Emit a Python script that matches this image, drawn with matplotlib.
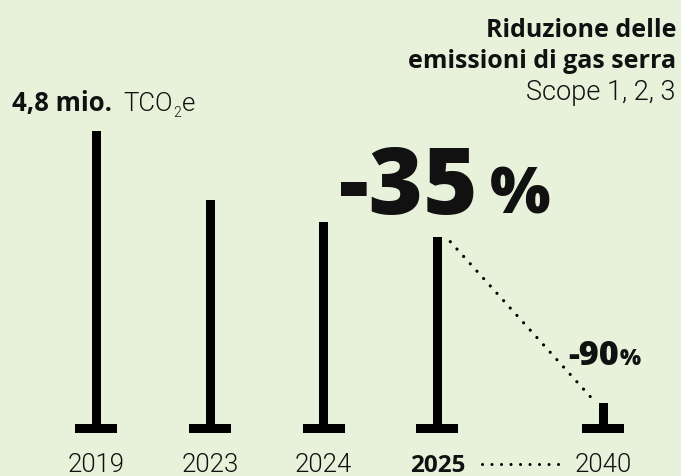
import matplotlib
matplotlib.use("Agg")
import matplotlib.pyplot as plt
from matplotlib.transforms import IdentityTransform, blended_transform_factory

# ---- data ----
years = ["2019", "2023", "2024", "2025", "2040"]
values = [4.8, 3.7, 3.35, 3.12, 0.48]      # million t CO2e
positions = [0, 1, 2, 3, 4.46]            # category slots (gap before 2040)
headline = "4,8 mio."
unit = "TCO"
reduction_2025 = "-35"
reduction_2040 = "-90"
title_lines = ["Riduzione delle", "emissioni di gas serra"]
subtitle = "Scope 1, 2, 3"

BG = "#e8f2da"
INK = "#111111"
FONT = "Open Sans"
LFONT = "Roboto"
LIGHT = 300

W, H = 681, 477
fig = plt.figure(figsize=(W / 100, H / 100), dpi=100, facecolor=BG)
ax = fig.add_axes([0, 0, 1, 1])
ax.set_facecolor(BG)
ax.axis("off")

ypx, xpx = 62.92, 113.6
ax.set_ylim(-43 / ypx, (H - 43) / ypx)
ax.set_xlim(-96.5 / xpx, (W - 96.5) / xpx)

stem_w = 9 / xpx
base_w = 42 / xpx
base_h = 9 / ypx
ax.bar(positions, values, width=stem_w, color="black", bottom=0)
ax.bar(positions, [base_h] * len(positions), width=base_w, color="black", bottom=0)

ident = IdentityTransform()

def disp(x, y):
    return ax.transData.transform((x, y))

# dotted trend 2025 -> 2040
x0, y0 = disp(positions[3], values[3])
x1, y1 = disp(positions[4], values[4])
ax.plot([x0 + 13, x1 - 10], [y0 - 5, y1 + 3], transform=ident, color="black",
        linestyle=(0, (0.01, 3.1)), linewidth=2.3, dash_capstyle="round")

# year labels
bt = blended_transform_factory(ax.transData, ident)
for p, yr in zip(positions, years):
    bold = yr == "2025"
    ax.text(p, 5, yr, transform=bt, ha="center", va="baseline",
            fontsize=17.5 if bold else 18.5, family=FONT if bold else LFONT, color=INK,
            fontweight="bold" if bold else LIGHT)

# dotted line between 2025 and 2040 labels
ax.plot([482, 558.5], [12, 12], transform=ident, color="black",
        linestyle=(0, (0.01, 3.1)), linewidth=2.2, dash_capstyle="round")

# headline value
fig.text(12, H - 111, headline, transform=ident, fontsize=18.5, family=FONT,
         fontweight="bold", color=INK, va="baseline", ha="left")
renderer = fig.canvas.get_renderer()
tu = fig.text(123, H - 111, unit, transform=ident, fontsize=18.5, family=LFONT,
              fontweight=LIGHT, color=INK, va="baseline", ha="left")
xr = tu.get_window_extent(renderer).x1
ts = fig.text(xr + 1, H - 117, "2", transform=ident, fontsize=10, family=LFONT,
              fontweight=LIGHT, color=INK, va="baseline", ha="left")
xr = ts.get_window_extent(renderer).x1
fig.text(xr + 1, H - 111, "e", transform=ident, fontsize=18.5, family=LFONT,
         fontweight=LIGHT, color=INK, va="baseline", ha="left")

# title block
fig.text(676, H - 37, title_lines[0], transform=ident, fontsize=18, family=FONT,
         fontweight="bold", color=INK, ha="right", va="baseline")
fig.text(676, H - 68, title_lines[1], transform=ident, fontsize=18, family=FONT,
         fontweight="bold", color=INK, ha="right", va="baseline")
fig.text(676, H - 100, subtitle, transform=ident, fontsize=19.5, family=LFONT,
         fontweight=LIGHT, color=INK, ha="right", va="baseline")

# big reductions
fig.text(339, H - 214, reduction_2025, transform=ident, fontsize=67, family=FONT,
         fontweight="heavy", color=INK, ha="left", va="baseline")
fig.text(490, H - 214, "%", transform=ident, fontsize=46, family=FONT,
         fontweight="heavy", color=INK, ha="left", va="baseline")
fig.text(568, H - 365, reduction_2040, transform=ident, fontsize=24.5, family=FONT,
         fontweight="heavy", color=INK, ha="left", va="baseline")
fig.text(620, H - 365, "%", transform=ident, fontsize=16, family=FONT,
         fontweight="heavy", color=INK, ha="left", va="baseline")

fig.savefig("out.png", dpi=100, facecolor=BG)
